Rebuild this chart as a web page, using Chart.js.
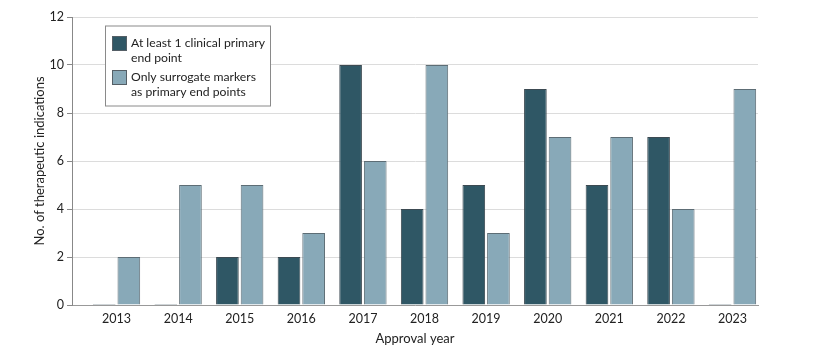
<!DOCTYPE html>
<html>
<head>
<meta charset="utf-8">
<script src="https://cdn.jsdelivr.net/npm/chart.js@4.4.1/dist/chart.umd.min.js"></script>
<style>
html,body{margin:0;padding:0;background:#fff;}
#wrap{position:relative;width:817px;height:359px;}
</style>
</head>
<body>
<div id="wrap"><canvas id="c" width="817" height="359"></canvas></div>
<script>
const years = [2013, 2014, 2015, 2016, 2017, 2018, 2019, 2020, 2021, 2022, 2023];
const clinicalEndPoint = [0, 0, 2, 2, 10, 4, 5, 9, 5, 7, 0];
const surrogateOnly = [2, 5, 5, 3, 6, 10, 3, 7, 7, 4, 9];
const yTicks = [0, 2, 4, 6, 8, 10, 12];
const legendLabels = [
  ["At least 1 clinical primary", "end point"],
  ["Only surrogate markers", "as primary end points"]
];

const FONT = "Lato, 'Open Sans', sans-serif";
const darkColor = "#2f5765";
const lightColor = "#88a9b8";

const legendPlugin = {
  id: "boxLegend",
  afterDraw(chart) {
    const ctx = chart.ctx;
    ctx.save();
    const bx = 105, by = 25.5, bw = 165, bh = 80;
    ctx.fillStyle = "#fff";
    ctx.fillRect(bx, by, bw, bh);
    ctx.strokeStyle = "#8a8a8a";
    ctx.lineWidth = 1;
    ctx.strokeRect(bx + 0.5, by + 0.5, bw, bh);
    const items = chart.data.datasets;
    const swY = [36, 70];
    items.forEach((ds, i) => {
      ctx.fillStyle = ds.backgroundColor;
      ctx.fillRect(112, swY[i], 15, 15);
      ctx.strokeStyle = "#555f66";
      ctx.strokeRect(112.5, swY[i] + 0.5, 14, 14);
      ctx.fillStyle = "#222";
      ctx.font = "12.2px " + FONT;
      ctx.textBaseline = "middle";
      ctx.textAlign = "left";
      legendLabels[i].forEach((t, j) => {
        ctx.fillText(t, 131, swY[i] + 7 + j * 15);
      });
    });
    ctx.restore();
  }
};

new Chart(document.getElementById("c"), {
  type: "bar",
  data: {
    datasets: [
      {
        label: legendLabels[0].join(" "),
        data: years.map((y, i) => ({ x: y, y: clinicalEndPoint[i] })),
        backgroundColor: darkColor,
        borderColor: "#3c4a52",
        borderWidth: 1,
        minBarLength: 1,
        categoryPercentage: 0.8,
        barPercentage: 0.92
      },
      {
        label: legendLabels[1].join(" "),
        data: years.map((y, i) => ({ x: y, y: surrogateOnly[i] })),
        backgroundColor: lightColor,
        borderColor: "#5d6d75",
        borderWidth: 1,
        minBarLength: 1,
        categoryPercentage: 0.8,
        barPercentage: 0.92
      }
    ]
  },
  options: {
    responsive: false,
    animation: false,
    devicePixelRatio: 1,
    layout: { padding: { left: 0, right: 59, top: 17, bottom: 0 } },
    plugins: { legend: { display: false }, tooltip: { enabled: false } },
    scales: {
      x: {
        type: "linear",
        offset: false,
        min: 2012.277,
        max: 2023.414,
        grid: { display: false, drawTicks: false },
        border: { display: true, color: "#999" },
        ticks: {
          stepSize: 1,
          includeBounds: false,
          autoSkip: false,
          maxRotation: 0,
          padding: 6,
          color: "#222",
          font: { family: FONT, size: 12.5 },
          callback: (v) => years.includes(v) ? String(v) : ""
        },
        title: {
          display: true,
          text: "Approval year",
          color: "#222",
          font: { family: FONT, size: 13 },
          padding: { top: 0, bottom: 12 }
        },
        afterFit(scale) { scale.height = 54; }
      },
      y: {
        min: 0,
        max: 12,
        afterBuildTicks(scale) { scale.ticks = yTicks.map(v => ({ value: v })); },
        grid: { color: "#dcdcdc", tickColor: "#888", tickLength: 5 },
        border: { display: true, color: "#888" },
        ticks: {
          padding: 3,
          color: "#222",
          font: { family: FONT, size: 12.5 }
        },
        title: {
          display: true,
          text: "No. of therapeutic indications",
          color: "#222",
          font: { family: FONT, size: 13 },
          padding: { top: 32, bottom: 6 }
        },
        afterFit(scale) { scale.width = 72; }
      }
    }
  },
  plugins: [legendPlugin]
});
</script>
</body>
</html>
